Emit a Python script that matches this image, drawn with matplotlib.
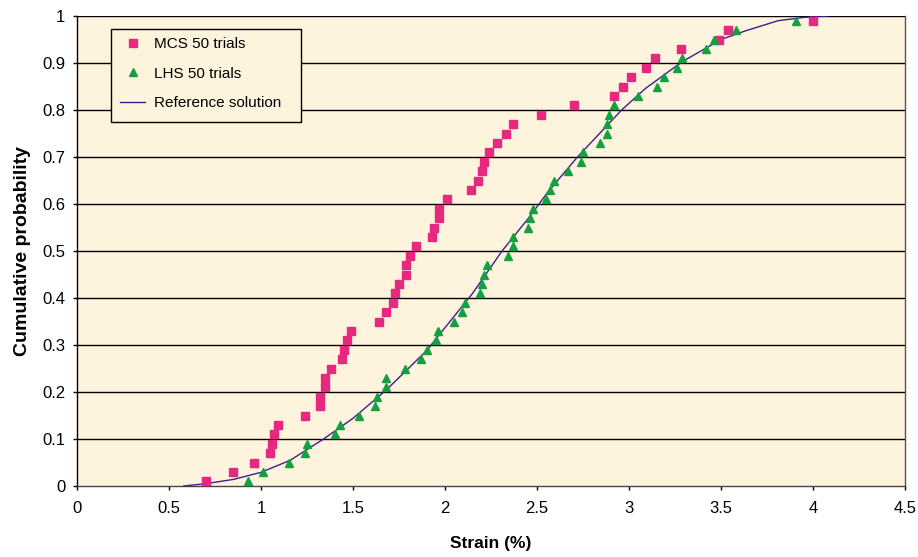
import matplotlib
matplotlib.use("Agg")
import matplotlib.pyplot as plt
from matplotlib.lines import Line2D
from matplotlib.patches import Rectangle

plt.rcParams['font.family'] = ['Liberation Sans', 'DejaVu Sans']

# Cumulative probabilities of the ranked samples
prob = [0.01, 0.03, 0.05, 0.07, 0.09, 0.11, 0.13, 0.15, 0.17, 0.19,
        0.21, 0.23, 0.25, 0.27, 0.29, 0.31, 0.33, 0.35, 0.37, 0.39,
        0.41, 0.43, 0.45, 0.47, 0.49, 0.51, 0.53, 0.55, 0.57, 0.59,
        0.61, 0.63, 0.65, 0.67, 0.69, 0.71, 0.73, 0.75, 0.77, 0.79,
        0.81, 0.83, 0.85, 0.87, 0.89, 0.91, 0.93, 0.95, 0.97, 0.99]

mcs_strain = [0.70, 0.85, 0.96, 1.05, 1.06, 1.07, 1.09, 1.24, 1.32, 1.32,
              1.35, 1.35, 1.38, 1.44, 1.45, 1.47, 1.49, 1.64, 1.68, 1.72,
              1.73, 1.75, 1.79, 1.79, 1.81, 1.84, 1.93, 1.94, 1.97, 1.97,
              2.01, 2.14, 2.18, 2.20, 2.21, 2.24, 2.28, 2.33, 2.37, 2.52,
              2.70, 2.92, 2.97, 3.01, 3.09, 3.14, 3.28, 3.49, 3.54, 4.00]

lhs_strain = [0.93, 1.01, 1.15, 1.24, 1.25, 1.40, 1.43, 1.53, 1.62, 1.63,
              1.68, 1.68, 1.78, 1.87, 1.90, 1.95, 1.96, 2.05, 2.09, 2.11,
              2.19, 2.20, 2.21, 2.23, 2.34, 2.37, 2.37, 2.45, 2.46, 2.48,
              2.55, 2.57, 2.59, 2.67, 2.74, 2.75, 2.84, 2.88, 2.88, 2.89,
              2.92, 3.05, 3.15, 3.19, 3.26, 3.29, 3.42, 3.46, 3.58, 3.91]

ref_strain = [0.58, 0.70, 0.85, 1.00, 1.16, 1.34, 1.50, 1.68, 1.90, 1.99,
              2.15, 2.31, 2.46, 2.56, 2.72, 2.96, 3.09, 3.29, 3.50, 3.63,
              3.81, 3.95, 4.08]
ref_prob = [0.0, 0.005, 0.014, 0.029, 0.055, 0.10, 0.144, 0.204, 0.288, 0.332,
            0.41, 0.50, 0.573, 0.626, 0.70, 0.80, 0.846, 0.903, 0.95, 0.968,
            0.99, 0.997, 1.0]

x_ticks = [0, 0.5, 1, 1.5, 2, 2.5, 3, 3.5, 4, 4.5]
x_tick_labels = ['0', '0.5', '1', '1.5', '2', '2.5', '3', '3.5', '4', '4.5']
y_ticks = [0, 0.1, 0.2, 0.3, 0.4, 0.5, 0.6, 0.7, 0.8, 0.9, 1]
y_tick_labels = ['0', '0.1', '0.2', '0.3', '0.4', '0.5', '0.6', '0.7', '0.8', '0.9', '1']

pink = '#E6287F'
green = '#14A040'
purple = '#3B1F8E'
beige = '#FEF3DC'

fig = plt.figure(figsize=(9.18, 5.57), dpi=100)
ax = fig.add_axes([77/918, 1 - 486/557, 828/918, 470/557])
ax.set_facecolor(beige)

for yv in y_ticks[1:]:
    ax.axhline(yv, color='black', lw=1.0, zorder=1)

ax.plot(ref_strain, ref_prob, color=purple, lw=1.0, zorder=2, label='Reference solution')
ax.plot(mcs_strain, prob, ls='none', marker='s', ms=5.2, mfc=pink, mec=pink,
        zorder=3, label='MCS 50 trials')
ax.plot(lhs_strain, prob, ls='none', marker='^', ms=5.6, mfc=green, mec=green,
        zorder=4, label='LHS 50 trials')

ax.set_xlim(0, 4.5)
ax.set_ylim(0, 1)
ax.set_xticks(x_ticks)
ax.set_xticklabels(x_tick_labels)
ax.set_yticks(y_ticks)
ax.set_yticklabels(y_tick_labels)
ax.tick_params(axis='both', direction='out', length=3, width=1, color='black',
               labelsize=12)
ax.tick_params(axis='y', pad=5.5)
ax.tick_params(axis='x', pad=8)

ax.spines['top'].set_visible(False)
ax.spines['right'].set_color('#555555')
ax.spines['left'].set_color('black')
ax.spines['bottom'].set_color('#444444')
for s in ax.spines.values():
    s.set_linewidth(1.0)

ax.set_xlabel('Strain (%)', fontsize=12.5, fontweight='bold', labelpad=14)
ax.set_ylabel('Cumulative probability', fontsize=14, fontweight='bold', labelpad=8)

# Legend frame (pixel box 111..301 x 29..122)
W, H = 918, 557
frame = Rectangle((111 / W, 1 - 122 / H), 190 / W, 93 / H, transform=fig.transFigure,
                  facecolor=beige, edgecolor='black', lw=1.0, zorder=5)
fig.patches.append(frame)

handles = [
    Line2D([], [], ls='none', marker='s', ms=5.2, mfc=pink, mec=pink),
    Line2D([], [], ls='none', marker='^', ms=5.6, mfc=green, mec=green),
    Line2D([], [], color=purple, lw=1.0),
]
leg = fig.legend(handles, ['MCS 50 trials', 'LHS 50 trials', 'Reference solution'],
                 loc='upper left', bbox_to_anchor=(120 / W, 1 - 37 / H),
                 frameon=False, fontsize=11, borderpad=0, labelspacing=1.02,
                 handlelength=1.65, handletextpad=0.6, borderaxespad=0)
leg.set_zorder(6)

fig.savefig('out.png', dpi=100, facecolor='white')
